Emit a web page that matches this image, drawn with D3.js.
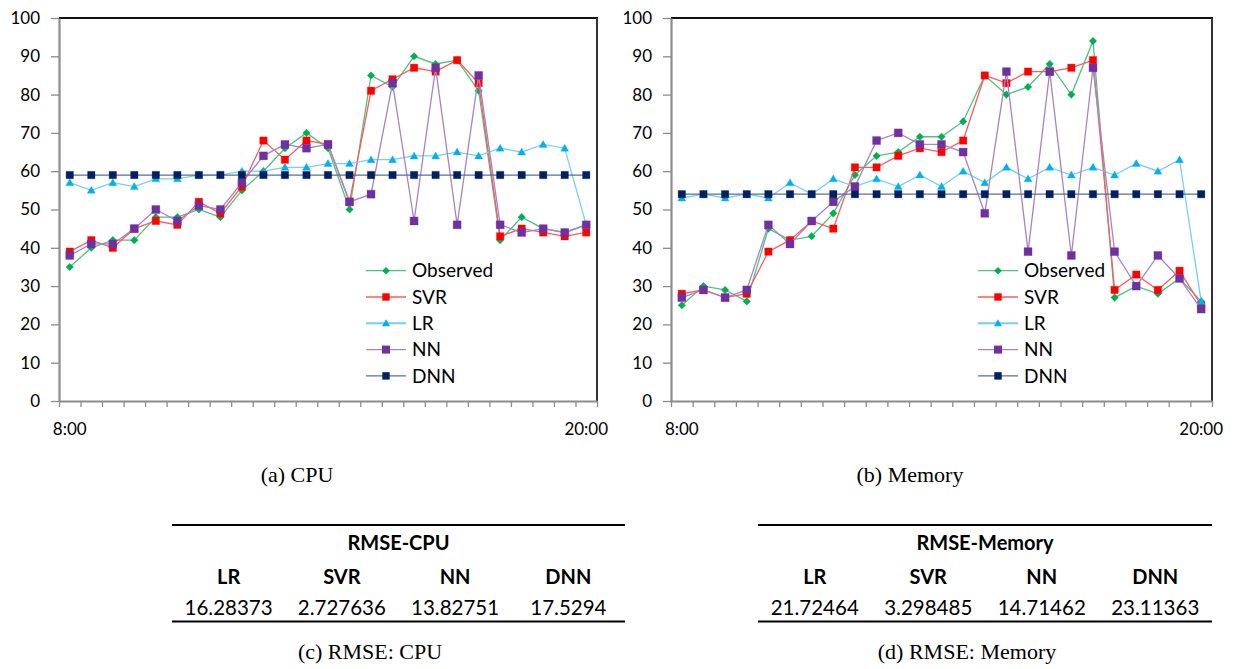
<!DOCTYPE html>
<html>
<head>
<meta charset="utf-8">
<script src="https://cdn.jsdelivr.net/npm/d3@7"></script>
<style>
  html, body { margin: 0; padding: 0; background: #fff; }
  svg { display: block; }
</style>
</head>
<body>
<svg id="fig" width="1240" height="669"></svg>
<script>
// Half-hour sampling slots from 8:00 to 20:00
const times = ["8:00","8:30","9:00","9:30","10:00","10:30","11:00","11:30","12:00",
  "12:30","13:00","13:30","14:00","14:30","15:00","15:30","16:00","16:30","17:00",
  "17:30","18:00","18:30","19:00","19:30","20:00"];
const xTickLabels = ["8:00", "20:00"];
const yTicks = [0,10,20,30,40,50,60,70,80,90,100];
const seriesNames = ["Observed", "SVR", "LR", "NN", "DNN"];

// CPU utilisation (%)
const cpuObserved = [35,40,42,42,48,48,50,48,55,60,66,70,66,50,85,82,90,88,89,81,42,48,45,44,46];
const cpuSVR      = [39,42,40,45,47,46,52,49,56,68,63,68,67,52,81,84,87,86,89,83,43,45,44,43,44];
const cpuLR       = [57,55,57,56,58,58,59,59,60,60,61,61,62,62,63,63,64,64,65,64,66,65,67,66,46];
const cpuNN       = [38,41,41,45,50,47,51,50,57,64,67,66,67,52,54,83,47,87,46,85,46,44,45,44,46];
const cpuDNN      = [59,59,59,59,59,59,59,59,59,59,59,59,59,59,59,59,59,59,59,59,59,59,59,59,59];

// Memory utilisation (%)
const memObserved = [25,30,29,26,45,42,43,49,59,64,65,69,69,73,85,80,82,88,80,94,27,30,28,32,26];
const memSVR      = [28,29,27,28,39,42,47,45,61,61,64,66,65,68,85,83,86,86,87,89,29,33,29,34,25];
const memLR       = [53,54,53,54,53,57,54,58,56,58,56,59,56,60,57,61,58,61,59,61,59,62,60,63,26];
const memNN       = [27,29,27,29,46,41,47,52,56,68,70,67,67,65,49,86,39,86,38,87,39,30,38,32,24];
const memDNN      = [54,54,54,54,54,54,54,54,54,54,54,54,54,54,54,54,54,54,54,54,54,54,54,54,54];

// RMSE tables
const rmseModels = ["LR", "SVR", "NN", "DNN"];
const rmseCPU    = ["16.28373", "2.727636", "13.82751", "17.5294"];
const rmseMemory = ["21.72464", "3.298485", "14.71462", "23.11363"];

const styles = {
  Observed: { marker: "diamond",  fill: "#00b050", line: "#4cc47f" },
  SVR:      { marker: "square",   fill: "#ff0000", line: "#ff5a5a" },
  LR:       { marker: "triangle", fill: "#00b0f0", line: "#74d0f3" },
  NN:       { marker: "square",   fill: "#7030a0", line: "#a882c8", big: true },
  DNN:      { marker: "square",   fill: "#002060", line: "#5a6d98" }
};

function markerPath(kind, big) {
  if (kind === "diamond") { const r = 3.8; return `M0,${-r}L${r},0L0,${r}L${-r},0Z`; }
  if (kind === "triangle") { return "M0,-4L4,3L-4,3Z"; }
  const h = big ? 4 : 3.7;
  return `M${-h},${-h}H${h}V${h}H${-h}Z`;
}

const svg = d3.select("#fig");
const sansFont = "Lato, 'Noto Sans', sans-serif";
const serifFont = "'Liberation Serif', 'Times New Roman', serif";

function drawChart(cfg) {
  const { x0, x1, y0, y1, data, legendX } = cfg;
  const g = svg.append("g");
  const x = d3.scaleBand().domain(times).range([x0, x1]);
  const xEdge = d3.scaleLinear().domain([0, times.length]).range([x0, x1]);
  const y = d3.scaleLinear().domain([0, 100]).range([y1, y0]);

  // plot frame: top and right edges
  g.append("line").attr("x1", x0).attr("x2", x1 + 1).attr("y1", y0).attr("y2", y0)
    .attr("stroke", "#111").attr("stroke-width", 2);
  g.append("line").attr("x1", x1).attr("x2", x1).attr("y1", y0).attr("y2", y1)
    .attr("stroke", "#333").attr("stroke-width", 2);

  // y axis
  const ya = g.append("g").attr("transform", `translate(${x0},0)`)
    .call(d3.axisLeft(y).tickValues(yTicks).tickSize(8).tickPadding(11).tickSizeOuter(0));
  ya.select(".domain").attr("stroke", "#8c8c8c").attr("stroke-width", 2.2);
  ya.selectAll(".tick line").attr("stroke", "#8c8c8c").attr("stroke-width", 1.3);
  ya.selectAll("text").attr("font-family", sansFont).attr("font-size", 17).attr("fill", "#000");

  // x axis: boundary ticks between slots
  const xa = g.append("g").attr("transform", `translate(0,${y1})`)
    .call(d3.axisBottom(xEdge).tickValues(d3.range(times.length + 1)).tickSize(6)
      .tickSizeOuter(0).tickFormat(""));
  xa.select(".domain").attr("stroke", "#8c8c8c").attr("stroke-width", 2.2);
  xa.selectAll(".tick line").attr("stroke", "#8c8c8c").attr("stroke-width", 1.3);

  // x labels at slot centres
  const xl = g.append("g").attr("transform", `translate(0,${y1})`)
    .call(d3.axisBottom(x).tickValues(xTickLabels).tickSize(0).tickPadding(22));
  xl.select(".domain").remove();
  xl.selectAll("text").attr("font-family", sansFont).attr("font-size", 17).attr("fill", "#000");

  const line = d3.line().x((d, i) => x(times[i]) + x.bandwidth() / 2).y(d => y(d));

  seriesNames.forEach(name => {
    const st = styles[name];
    const vals = data[name];
    const sg = g.append("g");
    sg.append("path").attr("d", line(vals)).attr("fill", "none")
      .attr("stroke", st.line).attr("stroke-width", 1.3);
    sg.selectAll("path.m").data(vals).enter().append("path").attr("class", "m")
      .attr("d", markerPath(st.marker, st.big))
      .attr("transform", (d, i) => `translate(${x(times[i]) + x.bandwidth() / 2},${y(d)})`)
      .attr("fill", st.fill).attr("stroke", st.fill).attr("stroke-width", 0.6)
      .attr("stroke-opacity", 0.5);
  });

  // legend
  const lg = g.append("g");
  seriesNames.forEach((name, i) => {
    const st = styles[name];
    const ly = 270.7 + i * 26.3;
    lg.append("line").attr("x1", legendX).attr("x2", legendX + 40).attr("y1", ly).attr("y2", ly)
      .attr("stroke", st.line).attr("stroke-width", name === "LR" ? 2 : 1.3);
    lg.append("path").attr("d", markerPath(st.marker, st.big))
      .attr("transform", `translate(${legendX + 20},${ly})`).attr("fill", st.fill);
    lg.append("text").attr("x", legendX + 46).attr("y", ly).attr("dy", "0.35em")
      .attr("font-family", sansFont).attr("font-size", 19).text(name);
  });
}

function drawTable(cfg) {
  const { x0, x1, title, values } = cfg;
  const g = svg.append("g");
  const col = d3.scaleBand().domain(rmseModels).range([x0, x1]);
  g.append("line").attr("x1", x0).attr("x2", x1).attr("y1", 525).attr("y2", 525)
    .attr("stroke", "#000").attr("stroke-width", 2);
  g.append("line").attr("x1", x0).attr("x2", x1).attr("y1", 621.5).attr("y2", 621.5)
    .attr("stroke", "#000").attr("stroke-width", 2);
  g.append("text").attr("x", (x0 + x1) / 2).attr("y", 550).attr("text-anchor", "middle")
    .attr("font-family", sansFont).attr("font-weight", "bold").attr("font-size", 20).text(title);
  g.selectAll("text.h").data(rmseModels).enter().append("text").attr("class", "h")
    .attr("x", d => col(d) + col.bandwidth() / 2).attr("y", 583.5).attr("text-anchor", "middle")
    .attr("font-family", sansFont).attr("font-weight", "bold").attr("font-size", 20).text(d => d);
  g.selectAll("text.v").data(values).enter().append("text").attr("class", "v")
    .attr("x", (d, i) => col(rmseModels[i]) + col.bandwidth() / 2).attr("y", 615)
    .attr("text-anchor", "middle").attr("font-family", sansFont).attr("font-size", 20.5).text(d => d);
}

function caption(text, cx, cy) {
  svg.append("text").attr("x", cx).attr("y", cy).attr("text-anchor", "middle")
    .attr("font-family", serifFont).attr("font-size", 22).text(text);
}

drawChart({
  x0: 59, x1: 597, y0: 18, y1: 401, legendX: 366,
  data: { Observed: cpuObserved, SVR: cpuSVR, LR: cpuLR, NN: cpuNN, DNN: cpuDNN }
});
drawChart({
  x0: 671, x1: 1212, y0: 18, y1: 401, legendX: 978,
  data: { Observed: memObserved, SVR: memSVR, LR: memLR, NN: memNN, DNN: memDNN }
});

drawTable({ x0: 172, x1: 625, title: "RMSE-CPU", values: rmseCPU });
drawTable({ x0: 758, x1: 1212, title: "RMSE-Memory", values: rmseMemory });

caption("(a) CPU", 297, 482);
caption("(b) Memory", 910, 482);
caption("(c) RMSE: CPU", 370, 659);
caption("(d) RMSE: Memory", 967, 659);
</script>
</body>
</html>
